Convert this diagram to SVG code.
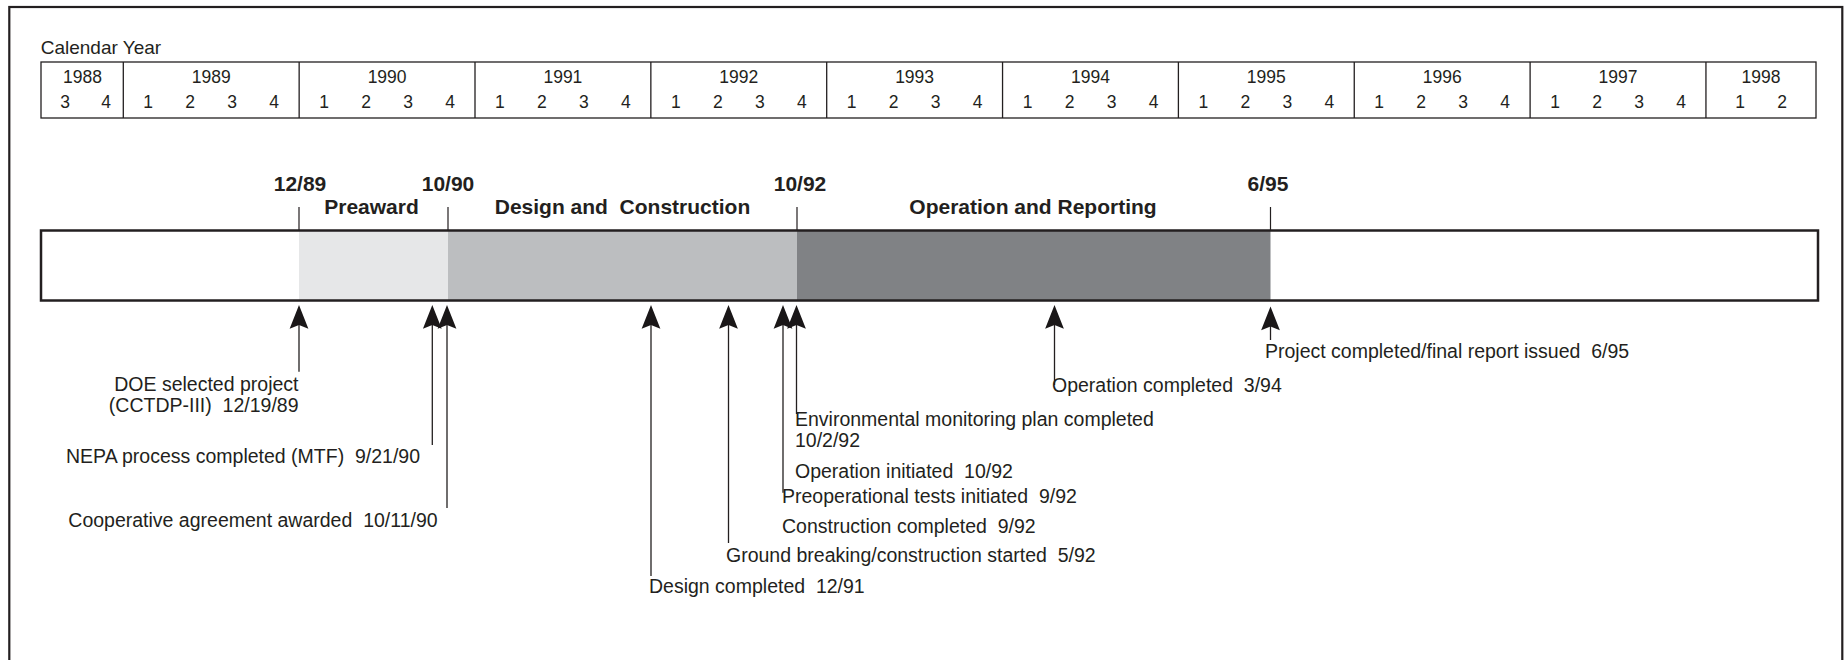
<svg xmlns="http://www.w3.org/2000/svg" width="1847" height="660" viewBox="0 0 1847 660" xml:space="preserve">
<style>
text{font-family:"Liberation Sans",Arial,Helvetica,sans-serif;fill:#231f20;white-space:pre}
.hdr{font-size:19px}
.yr{font-size:17.5px;text-anchor:middle}
.q{font-size:17.5px;text-anchor:middle}
.bold{font-size:21px;font-weight:bold;text-anchor:middle}
.lbl{font-size:19.5px}
.grid{stroke:#231f20;stroke-width:1.3;fill:none}
.tick{stroke:#231f20;stroke-width:1.2}
.shaft{stroke:#231f20;stroke-width:1.3;fill:none;marker-end:url(#ah)}
</style>
<defs>
<marker id="ah" markerUnits="userSpaceOnUse" orient="auto" refX="0" refY="0" markerWidth="30" markerHeight="30" viewBox="-12 -10 24 20" overflow="visible">
<path d="M10,0 L-9,-7.5 L-6,0 L-9,7.5 Z" fill="#1a1718"/>
</marker>
</defs>
<rect x="0" y="0" width="1847" height="660" fill="#ffffff"/>
<rect id="frame" x="9.3" y="7" width="1833" height="680" fill="none" stroke="#231f20" stroke-width="2.2"/>

<g id="calendar">
<text class="hdr" x="40.7" y="54">Calendar Year</text>
<rect class="grid" x="41" y="62" width="1775" height="56"/>
<path class="grid" d="M123.3,62V118M299.15,62V118M475,62V118M650.85,62V118M826.7,62V118M1002.55,62V118M1178.4,62V118M1354.25,62V118M1530.1,62V118M1705.95,62V118"/>
<g class="years">
<text class="yr" x="82.5" y="82.7">1988</text>
<text class="yr" x="211.2" y="82.7">1989</text>
<text class="yr" x="387.1" y="82.7">1990</text>
<text class="yr" x="562.9" y="82.7">1991</text>
<text class="yr" x="738.8" y="82.7">1992</text>
<text class="yr" x="914.6" y="82.7">1993</text>
<text class="yr" x="1090.5" y="82.7">1994</text>
<text class="yr" x="1266.3" y="82.7">1995</text>
<text class="yr" x="1442.2" y="82.7">1996</text>
<text class="yr" x="1618" y="82.7">1997</text>
<text class="yr" x="1761" y="82.7">1998</text>
</g>
<g class="quarters">
<text class="q" x="65" y="108.3">3</text><text class="q" x="106" y="108.3">4</text>
<text class="q" x="148.2" y="108.3">1</text><text class="q" x="190.2" y="108.3">2</text><text class="q" x="232.2" y="108.3">3</text><text class="q" x="274.2" y="108.3">4</text>
<text class="q" x="324.1" y="108.3">1</text><text class="q" x="366.1" y="108.3">2</text><text class="q" x="408.1" y="108.3">3</text><text class="q" x="450.1" y="108.3">4</text>
<text class="q" x="499.9" y="108.3">1</text><text class="q" x="541.9" y="108.3">2</text><text class="q" x="583.9" y="108.3">3</text><text class="q" x="625.9" y="108.3">4</text>
<text class="q" x="675.8" y="108.3">1</text><text class="q" x="717.8" y="108.3">2</text><text class="q" x="759.8" y="108.3">3</text><text class="q" x="801.8" y="108.3">4</text>
<text class="q" x="851.6" y="108.3">1</text><text class="q" x="893.6" y="108.3">2</text><text class="q" x="935.6" y="108.3">3</text><text class="q" x="977.6" y="108.3">4</text>
<text class="q" x="1027.5" y="108.3">1</text><text class="q" x="1069.5" y="108.3">2</text><text class="q" x="1111.5" y="108.3">3</text><text class="q" x="1153.5" y="108.3">4</text>
<text class="q" x="1203.3" y="108.3">1</text><text class="q" x="1245.3" y="108.3">2</text><text class="q" x="1287.3" y="108.3">3</text><text class="q" x="1329.3" y="108.3">4</text>
<text class="q" x="1379.2" y="108.3">1</text><text class="q" x="1421.2" y="108.3">2</text><text class="q" x="1463.2" y="108.3">3</text><text class="q" x="1505.2" y="108.3">4</text>
<text class="q" x="1555" y="108.3">1</text><text class="q" x="1597" y="108.3">2</text><text class="q" x="1639" y="108.3">3</text><text class="q" x="1681" y="108.3">4</text>
<text class="q" x="1740" y="108.3">1</text><text class="q" x="1782" y="108.3">2</text>
</g>
</g>

<g id="timeline-bar">
<rect x="299" y="230.5" width="149" height="70" fill="#e6e7e8"/>
<rect x="448" y="230.5" width="349" height="70" fill="#bcbec0"/>
<rect x="797" y="230.5" width="473.5" height="70" fill="#808285"/>
<rect x="41" y="230.5" width="1777" height="70" fill="none" stroke="#231f20" stroke-width="2.5"/>
</g>

<g id="phase-markers">
<path class="tick" d="M299,207V230M448,207V230M797,207V230M1270.5,207V230"/>
<text class="bold" x="300" y="190.7">12/89</text>
<text class="bold" x="448" y="190.7">10/90</text>
<text class="bold" x="800" y="190.7">10/92</text>
<text class="bold" x="1268" y="190.7">6/95</text>
</g>
<g id="phase-preaward"><text class="bold" x="371.5" y="214.3">Preaward</text></g>
<g id="phase-design"><text class="bold" x="622.5" y="214.3">Design and  Construction</text></g>
<g id="phase-operation"><text class="bold" x="1033" y="214.3">Operation and Reporting</text></g>

<g id="connectors">
<line class="shaft" x1="299" y1="371.7" x2="299" y2="317.5"/>
<line class="shaft" x1="432.3" y1="445" x2="432.3" y2="317.5"/>
<line class="shaft" x1="447" y1="508" x2="447" y2="317.5"/>
<line class="shaft" x1="651" y1="576" x2="651" y2="317.5"/>
<line class="shaft" x1="728.5" y1="543" x2="728.5" y2="317.5"/>
<line class="shaft" x1="783" y1="492.7" x2="783" y2="317.5"/>
<line class="shaft" x1="796.5" y1="414" x2="796.5" y2="317.5"/>
<line class="shaft" x1="1054.5" y1="385" x2="1054.5" y2="317.5"/>
<line class="shaft" x1="1270.5" y1="340" x2="1270.5" y2="319"/>
</g>

<g id="ev-doe"><text class="lbl" x="298.5" y="391" text-anchor="end">DOE selected project</text><text class="lbl" x="298.5" y="411.7" text-anchor="end">(CCTDP-III)  12/19/89</text></g>
<g id="ev-nepa"><text class="lbl" x="66" y="462.7">NEPA process completed (MTF)  9/21/90</text></g>
<g id="ev-coop"><text class="lbl" x="68.3" y="526.7">Cooperative agreement awarded  10/11/90</text></g>
<g id="ev-design"><text class="lbl" x="649" y="593.3">Design completed  12/91</text></g>
<g id="ev-ground"><text class="lbl" x="726" y="561.7">Ground breaking/construction started  5/92</text></g>
<g id="ev-constr"><text class="lbl" x="782" y="533.3">Construction completed  9/92</text></g>
<g id="ev-preop"><text class="lbl" x="782" y="502.7">Preoperational tests initiated  9/92</text></g>
<g id="ev-opinit"><text class="lbl" x="795" y="477.7">Operation initiated  10/92</text></g>
<g id="ev-env"><text class="lbl" x="795" y="425.7">Environmental monitoring plan completed</text><text class="lbl" x="795" y="446.7">10/2/92</text></g>
<g id="ev-opcomp"><text class="lbl" x="1052" y="391.7">Operation completed  3/94</text></g>
<g id="ev-project"><text class="lbl" x="1265" y="358.3">Project completed/final report issued  6/95</text></g>
</svg>
